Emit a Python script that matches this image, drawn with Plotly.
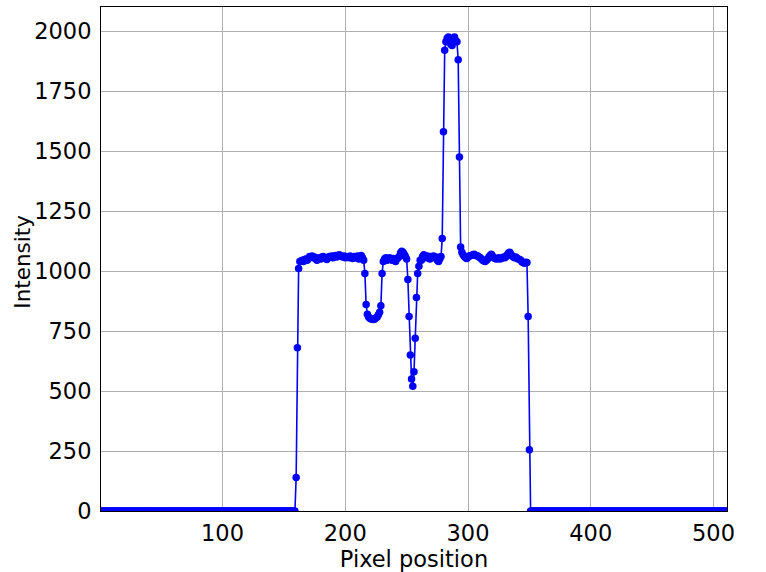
import plotly.graph_objects as go

# ---- data ----
n_pixels = 512
profile_start = 160  # first non-zero pixel

edge_rise = [140, 680, 1010]
plateau_1 = [1040, 1042, 1045, 1040, 1048, 1050, 1045, 1052, 1060, 1058,
             1062, 1055, 1058, 1050, 1045, 1052, 1055, 1050, 1058, 1060,
             1055, 1052, 1048, 1055, 1060, 1058, 1062, 1055, 1060, 1065,
             1058, 1062, 1068, 1065, 1060, 1058, 1062, 1055, 1060, 1058,
             1055, 1062, 1058, 1052, 1060, 1055, 1058, 1062, 1050, 1058,
             1065, 1055, 1045]
dip_1 = [990, 860, 820, 808, 803, 800, 800, 798, 800, 805, 808, 818, 828, 855, 990]
plateau_2 = [1040, 1050, 1055, 1045, 1048, 1055, 1050, 1045, 1052, 1048,
             1040, 1050, 1055, 1060, 1075, 1082, 1078, 1070, 1060, 1050]
dip_2 = [965, 810, 650, 550, 520, 580, 720, 890, 990, 1020, 1045]
plateau_3 = [1045, 1060, 1068, 1060, 1055, 1062, 1058, 1050, 1060, 1058,
             1062, 1055, 1058, 1045, 1040, 1050, 1060]
peak = [1135, 1580, 1920, 1955, 1970, 1975, 1965, 1945, 1940, 1970,
        1975, 1960, 1955, 1880, 1475]
plateau_4 = [1100, 1078, 1068, 1060, 1055, 1052, 1058, 1062, 1064, 1066,
             1068, 1070, 1066, 1064, 1062, 1058, 1055, 1050, 1045, 1042,
             1040, 1045, 1050, 1058, 1065, 1070, 1062, 1055, 1052, 1050,
             1052, 1055, 1050, 1052, 1055, 1058, 1055, 1060, 1068, 1075,
             1078, 1070, 1062, 1058, 1055, 1058, 1052, 1050, 1048, 1045,
             1038, 1035, 1032, 1036, 1035]
edge_fall = [810, 255]

x_ticks = [100, 200, 300, 400, 500]
y_ticks = [0, 250, 500, 750, 1000, 1250, 1500, 1750, 2000]

profile = (edge_rise + plateau_1 + dip_1 + plateau_2 + dip_2 + plateau_3
           + peak + plateau_4 + edge_fall)
background_left = [0] * profile_start
background_right = [0] * (n_pixels - profile_start - len(profile))
intensity = background_left + profile + background_right
positions = list(range(n_pixels))

fig = go.Figure(go.Scatter(
    x=positions, y=intensity, mode="lines+markers",
    line=dict(color="#0000ff", width=1.6),
    marker=dict(color="#0000ff", size=7.5),
))

font = "DejaVu Sans"
axis_common = dict(
    showgrid=True, gridcolor="#b0b0b0", gridwidth=0.8,
    showline=True, linecolor="black", linewidth=1, mirror=True,
    zeroline=False, ticks="", tickfont=dict(family=font, size=22.5, color="black"),
)

fig.update_layout(
    width=766, height=572,
    margin=dict(l=101, r=39, t=6, b=59),
    paper_bgcolor="white", plot_bgcolor="white",
    showlegend=False,
    xaxis=dict(range=[1, 511], tickvals=x_ticks,
               title=dict(text="Pixel position", standoff=4,
                          font=dict(family=font, size=22.5, color="black")),
               ticklabelstandoff=2, **axis_common),
    yaxis=dict(range=[0, 2100], tickvals=y_ticks,
               ticklabelstandoff=4, **axis_common),
    annotations=[dict(text="Intensity", textangle=-90, showarrow=False,
                      xref="paper", yref="paper", x=-0.126, y=0.495,
                      xanchor="center", yanchor="middle",
                      font=dict(family=font, size=21.5, color="black"))],
)

fig.write_html("out.html", config={"displayModeBar": False},
               post_script="document.body.style.margin='0';")
